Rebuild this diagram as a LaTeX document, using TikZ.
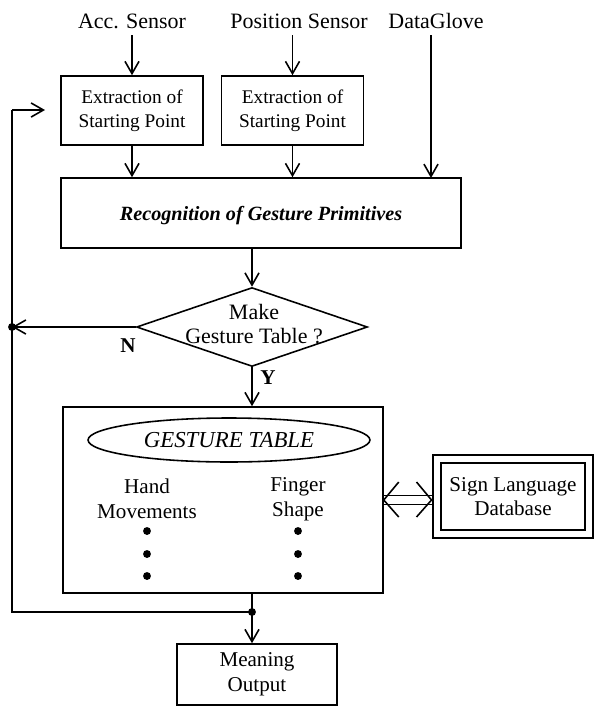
\documentclass[tikz,border=0pt]{standalone}
\usepackage{fontspec}
\setmainfont{Liberation Serif}
\usetikzlibrary{arrows.meta,positioning,shapes.geometric,calc}

\begin{document}
\begin{tikzpicture}[x=0.02cm, y=-0.02cm, >={Straight Barb[length=7pt,width=8pt]},
  line width=0.9pt, font=\fontsize{12}{14}\selectfont,
  box/.style={draw, align=center, inner sep=0pt},
  dot/.style={circle, fill, inner sep=0pt, minimum size=4.5pt}]

  \useasboundingbox (0,0) rectangle (594,708);

  % Define nodes
  \node[font=\fontsize{12.5}{14}\selectfont] (acc) at (132,21) {Acc. Sensor};
  \node[font=\fontsize{12.5}{14}\selectfont] (pos) at (299,21) {Position Sensor};
  \node[font=\fontsize{12.5}{14}\selectfont] (glove) at (436,21) {DataGlove};
  \node[box, minimum width=2.84cm, minimum height=1.38cm, font=\fontsize{11}{13.5}\selectfont] (ext1) at (132,110.5) {Extraction of\\Starting Point};
  \node[box, minimum width=2.84cm, minimum height=1.38cm, font=\fontsize{11}{13.5}\selectfont] (ext2) at (292.5,110.5) {Extraction of\\Starting Point};
  \node[box, minimum width=8cm, minimum height=1.4cm] (recog) at (261,213) {};
  \node[font=\fontsize{11.5}{13}\selectfont\bfseries\itshape] (recogtext) at (261,216) {Recognition of Gesture Primitives};
  \node[draw, diamond, inner sep=0pt, minimum width=4.62cm, minimum height=1.58cm] (dec) at (252,327) {};
  \node[align=center, font=\fontsize{12.5}{14}\selectfont] (dectext) at (254,324) {Make\\Gesture Table ?};
  \node[box, minimum width=6.4cm, minimum height=3.72cm] (table) at (223,500) {};
  \node[draw, ellipse, inner sep=0pt, minimum width=5.64cm, minimum height=0.88cm, font=\fontsize{13}{15}\selectfont\itshape] (title) at (229,440) {GESTURE TABLE};
  \node[align=center] (hand) at (147,499) {Hand\\Movements};
  \node[align=center] (finger) at (298,499) {Finger\\Shape};
  \node[box, double, double distance=3.5pt, minimum width=3.04cm, minimum height=1.5cm] (db) at (513,496.5) {Sign Language\\Database};
  \node[box, minimum width=3.2cm, minimum height=1.22cm] (meaning) at (257,674.5) {Meaning\\Output};

  % Dots in the table
  \foreach \y in {531,554,576} {
    \node[dot] at (hand.center |- 0,\y) {};
    \node[dot] at (finger.center |- 0,\y) {};
  }

  % Junctions and corners
  \coordinate (gin) at (431,178);
  \node[dot] (jn) at (12,327) {};
  \node[dot] (jb) at (252,612) {};
  \coordinate (lt) at (12,110);
  \coordinate (fbin) at (45,110);
  \coordinate (dbw) at ($(table.east -| db.west)+(-4.7,0)$);

  % Draw arrows
  \draw[->] (acc.south -| ext1.north) -- (ext1.north);
  \draw[->] (pos.south -| ext2.north) -- (ext2.north);
  \draw[->] (glove.south -| gin) -- (gin);
  \draw[->] (ext1.south) -- (ext1.south |- recog.north);
  \draw[->] (ext2.south) -- (ext2.south |- recog.north);
  \draw[->] (dec.north |- recog.south) -- (dec.north);
  \draw[->] (dec.west) -- (jn.center);
  \draw[->] (dec.south) -- (dec.south |- table.north);
  \draw (jb.center) -- (jb |- table.south);
  \draw[->] (jb.center) -- (jb |- meaning.north);
  \draw (jb.center) -- (jb -| lt) -- (lt);
  \draw[->] (lt) -- (fbin);

  % Double arrow to the database
  \draw ($(table.east)+(0,-4.5)$) -- ($(dbw)+(0,-4.5)$);
  \draw ($(table.east)+(0,4.5)$) -- ($(dbw)+(0,4.5)$);
  \draw ($(table.east)+(15,-18)$) -- (table.east) -- ($(table.east)+(15,17)$);
  \draw ($(dbw)+(-15,-18)$) -- (dbw) -- ($(dbw)+(-15,17)$);

  % Branch labels
  \node at (128,346) {\textbf{N}};
  \node at (268,378) {\textbf{Y}};
\end{tikzpicture}
\end{document}
